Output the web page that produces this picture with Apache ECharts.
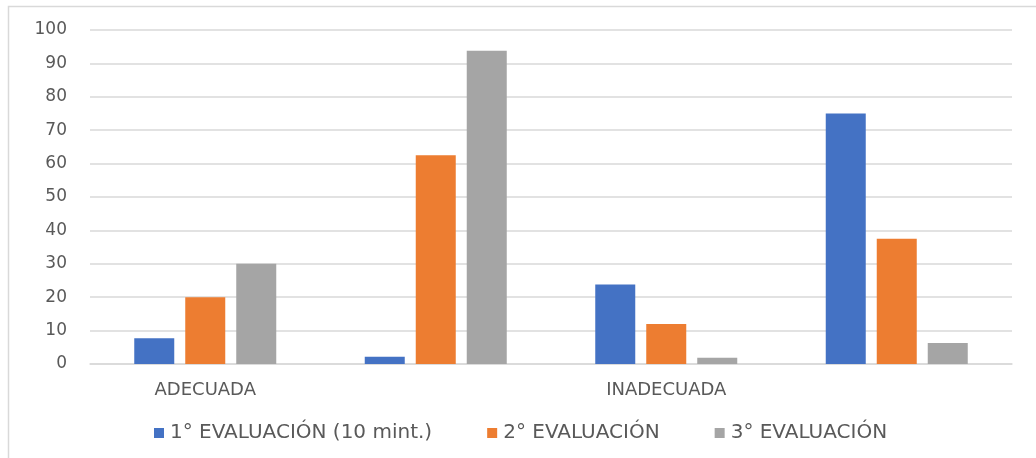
<!DOCTYPE html>
<html>
<head>
<meta charset="utf-8">
<script src="https://cdn.jsdelivr.net/npm/echarts@6/dist/echarts.min.js"></script>
<style>
  html, body { margin: 0; padding: 0; background: #ffffff; }
  #chart { width: 1036px; height: 458px; }
</style>
</head>
<body>
<div id="chart"></div>
<script>
// Groups along the category axis (only two carry a label)
const categories = ['ADECUADA', '', 'INADECUADA', ''];

// Series names and values (%)
const seriesNames = ['1° EVALUACIÓN (10 mint.)', '2° EVALUACIÓN', '3° EVALUACIÓN'];
const eval1 = [7.7, 2.2, 23.8, 75];
const eval2 = [20, 62.5, 12, 37.5];
const eval3 = [30, 93.8, 1.9, 6.3];

// Value axis ticks
const yMin = 0;
const yMax = 100;
const yStep = 10;

const colors = ['#4472C4', '#ED7D31', '#A5A5A5'];
const textColor = '#595959';
const gridColor = '#D9D9D9';
const font = 'DejaVu Sans';

const chart = echarts.init(document.getElementById('chart'), null, { renderer: 'canvas' });

const seriesData = [eval1, eval2, eval3];

chart.setOption({
  backgroundColor: '#ffffff',
  animation: false,
  color: colors,
  graphic: [{
    type: 'rect',
    shape: { x: 8.5, y: 6.5, width: 1100, height: 600 },
    style: { fill: 'none', stroke: gridColor, lineWidth: 1.5 },
    silent: true,
    z: -1
  }],
  grid: { left: 90, right: 24, top: 30, bottom: 94, containLabel: false },
  legend: {
    left: 149,
    top: 418,
    itemWidth: 10,
    itemHeight: 10,
    itemGap: 55,
    icon: 'rect',
    textStyle: { color: textColor, fontFamily: font, fontSize: 20, padding: [0, 0, 0, 1] },
    data: seriesNames
  },
  xAxis: {
    type: 'category',
    data: categories,
    axisLine: { show: true, lineStyle: { color: gridColor, width: 1.5 } },
    axisTick: { show: false },
    axisLabel: { color: textColor, fontFamily: font, fontSize: 18, margin: 17, interval: 0 },
    splitLine: { show: false }
  },
  yAxis: {
    type: 'value',
    min: yMin,
    max: yMax,
    interval: yStep,
    axisLine: { show: false },
    axisTick: { show: false },
    axisLabel: { color: textColor, fontFamily: font, fontSize: 17, margin: 23 },
    splitLine: { lineStyle: { color: gridColor, width: 1.5 } }
  },
  series: seriesNames.map((name, i) => ({
    name: name,
    type: 'bar',
    data: seriesData[i],
    barWidth: 40,
    barGap: '27.5%',
    itemStyle: { color: colors[i] }
  }))
});
</script>
</body>
</html>
